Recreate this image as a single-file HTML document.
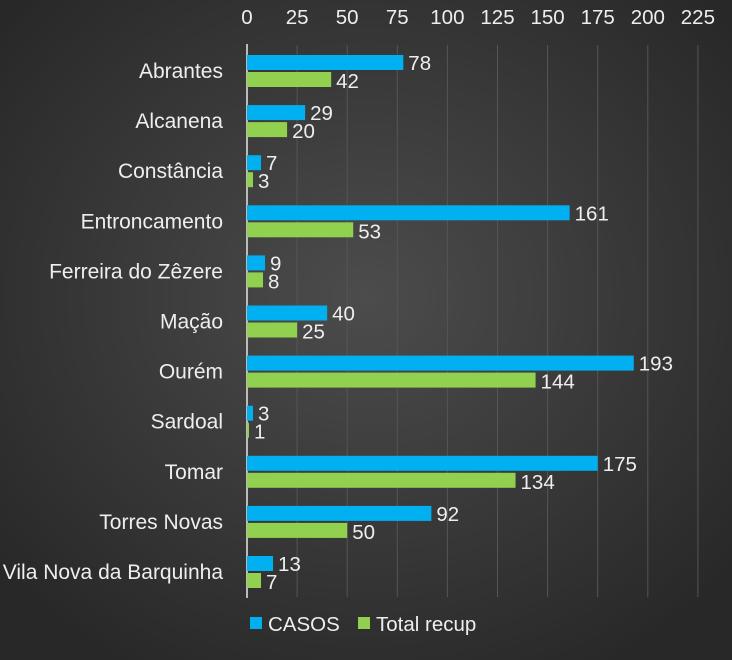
<!DOCTYPE html>
<html><head><meta charset="utf-8"><style>
body{margin:0;width:732px;height:660px;overflow:hidden;background:#333;}
svg{display:block;font-family:"Liberation Sans",sans-serif;}
</style></head><body>
<svg width="732" height="660">
<defs><radialGradient id="bg" cx="50%" cy="45%" r="65%"><stop offset="0" stop-color="#4c4c4c"/><stop offset="1" stop-color="#282828"/></radialGradient></defs>
<rect width="732" height="660" fill="url(#bg)"/>
<g id="grid"></g><g id="bars"></g><g id="labels"></g>
<g>
<rect x="250" y="617" width="12" height="12" fill="#00b0f0"/>
<text x="268" y="631" fill="#eee" font-size="20.5">CASOS</text>
<rect x="358" y="617" width="12" height="12" fill="#92d050"/>
<text x="376" y="631" fill="#eee" font-size="20.5">Total recup</text>
</g>
</svg>
<script>
const categories=["Abrantes","Alcanena","Constância","Entroncamento","Ferreira do Zêzere","Mação","Ourém","Sardoal","Tomar","Torres Novas","Vila Nova da Barquinha"];
const casos=[78,29,7,161,9,40,193,3,175,92,13];
const recup=[42,20,3,53,8,25,144,1,134,50,7];
const ticks=[0,25,50,75,100,125,150,175,200,225];
const NS="http://www.w3.org/2000/svg";
const x0=247,scale=2.004,rowTop=46,rowH=50.1;
const xs=v=>x0+v*scale;
function mk(tag,attrs,parent,text){const e=document.createElementNS(NS,tag);for(const k in attrs)e.setAttribute(k,attrs[k]);if(text!==undefined)e.textContent=text;document.getElementById(parent).appendChild(e);return e;}
ticks.forEach(t=>{
 if(t>0){const l=mk('line',{x1:xs(t),x2:xs(t),y1:45,y2:597,stroke:'#555','stroke-width':1},'grid');
 
 }
 const tx=mk('text',{x:xs(t),y:24,'text-anchor':'middle',fill:'#eee','font-size':20.5},'labels',t);
 
 
});
const ax=mk('line',{x1:x0,x2:x0,y1:44,y2:598,stroke:'#bbb','stroke-width':2},'grid');


categories.forEach((c,i)=>{
 const y=rowTop+i*rowH;
 const cl=mk('text',{x:223,y:y+32,'text-anchor':'end',fill:'#eee','font-size':21},'labels',c);
 
 
 const b1=mk('rect',{x:x0,y:y+9,width:casos[i]*scale,height:15,fill:'#00b0f0'},'bars');
 
 
 const b2=mk('rect',{x:x0,y:y+26,width:recup[i]*scale,height:15,fill:'#92d050'},'bars');
 
 
 const v1=mk('text',{x:xs(casos[i])+5,y:y+24,fill:'#eee','font-size':20.5},'labels',casos[i]);
 
 
 const v2=mk('text',{x:xs(recup[i])+5,y:y+42,fill:'#eee','font-size':20.5},'labels',recup[i]);
 
 
});
</script>
</body></html>
